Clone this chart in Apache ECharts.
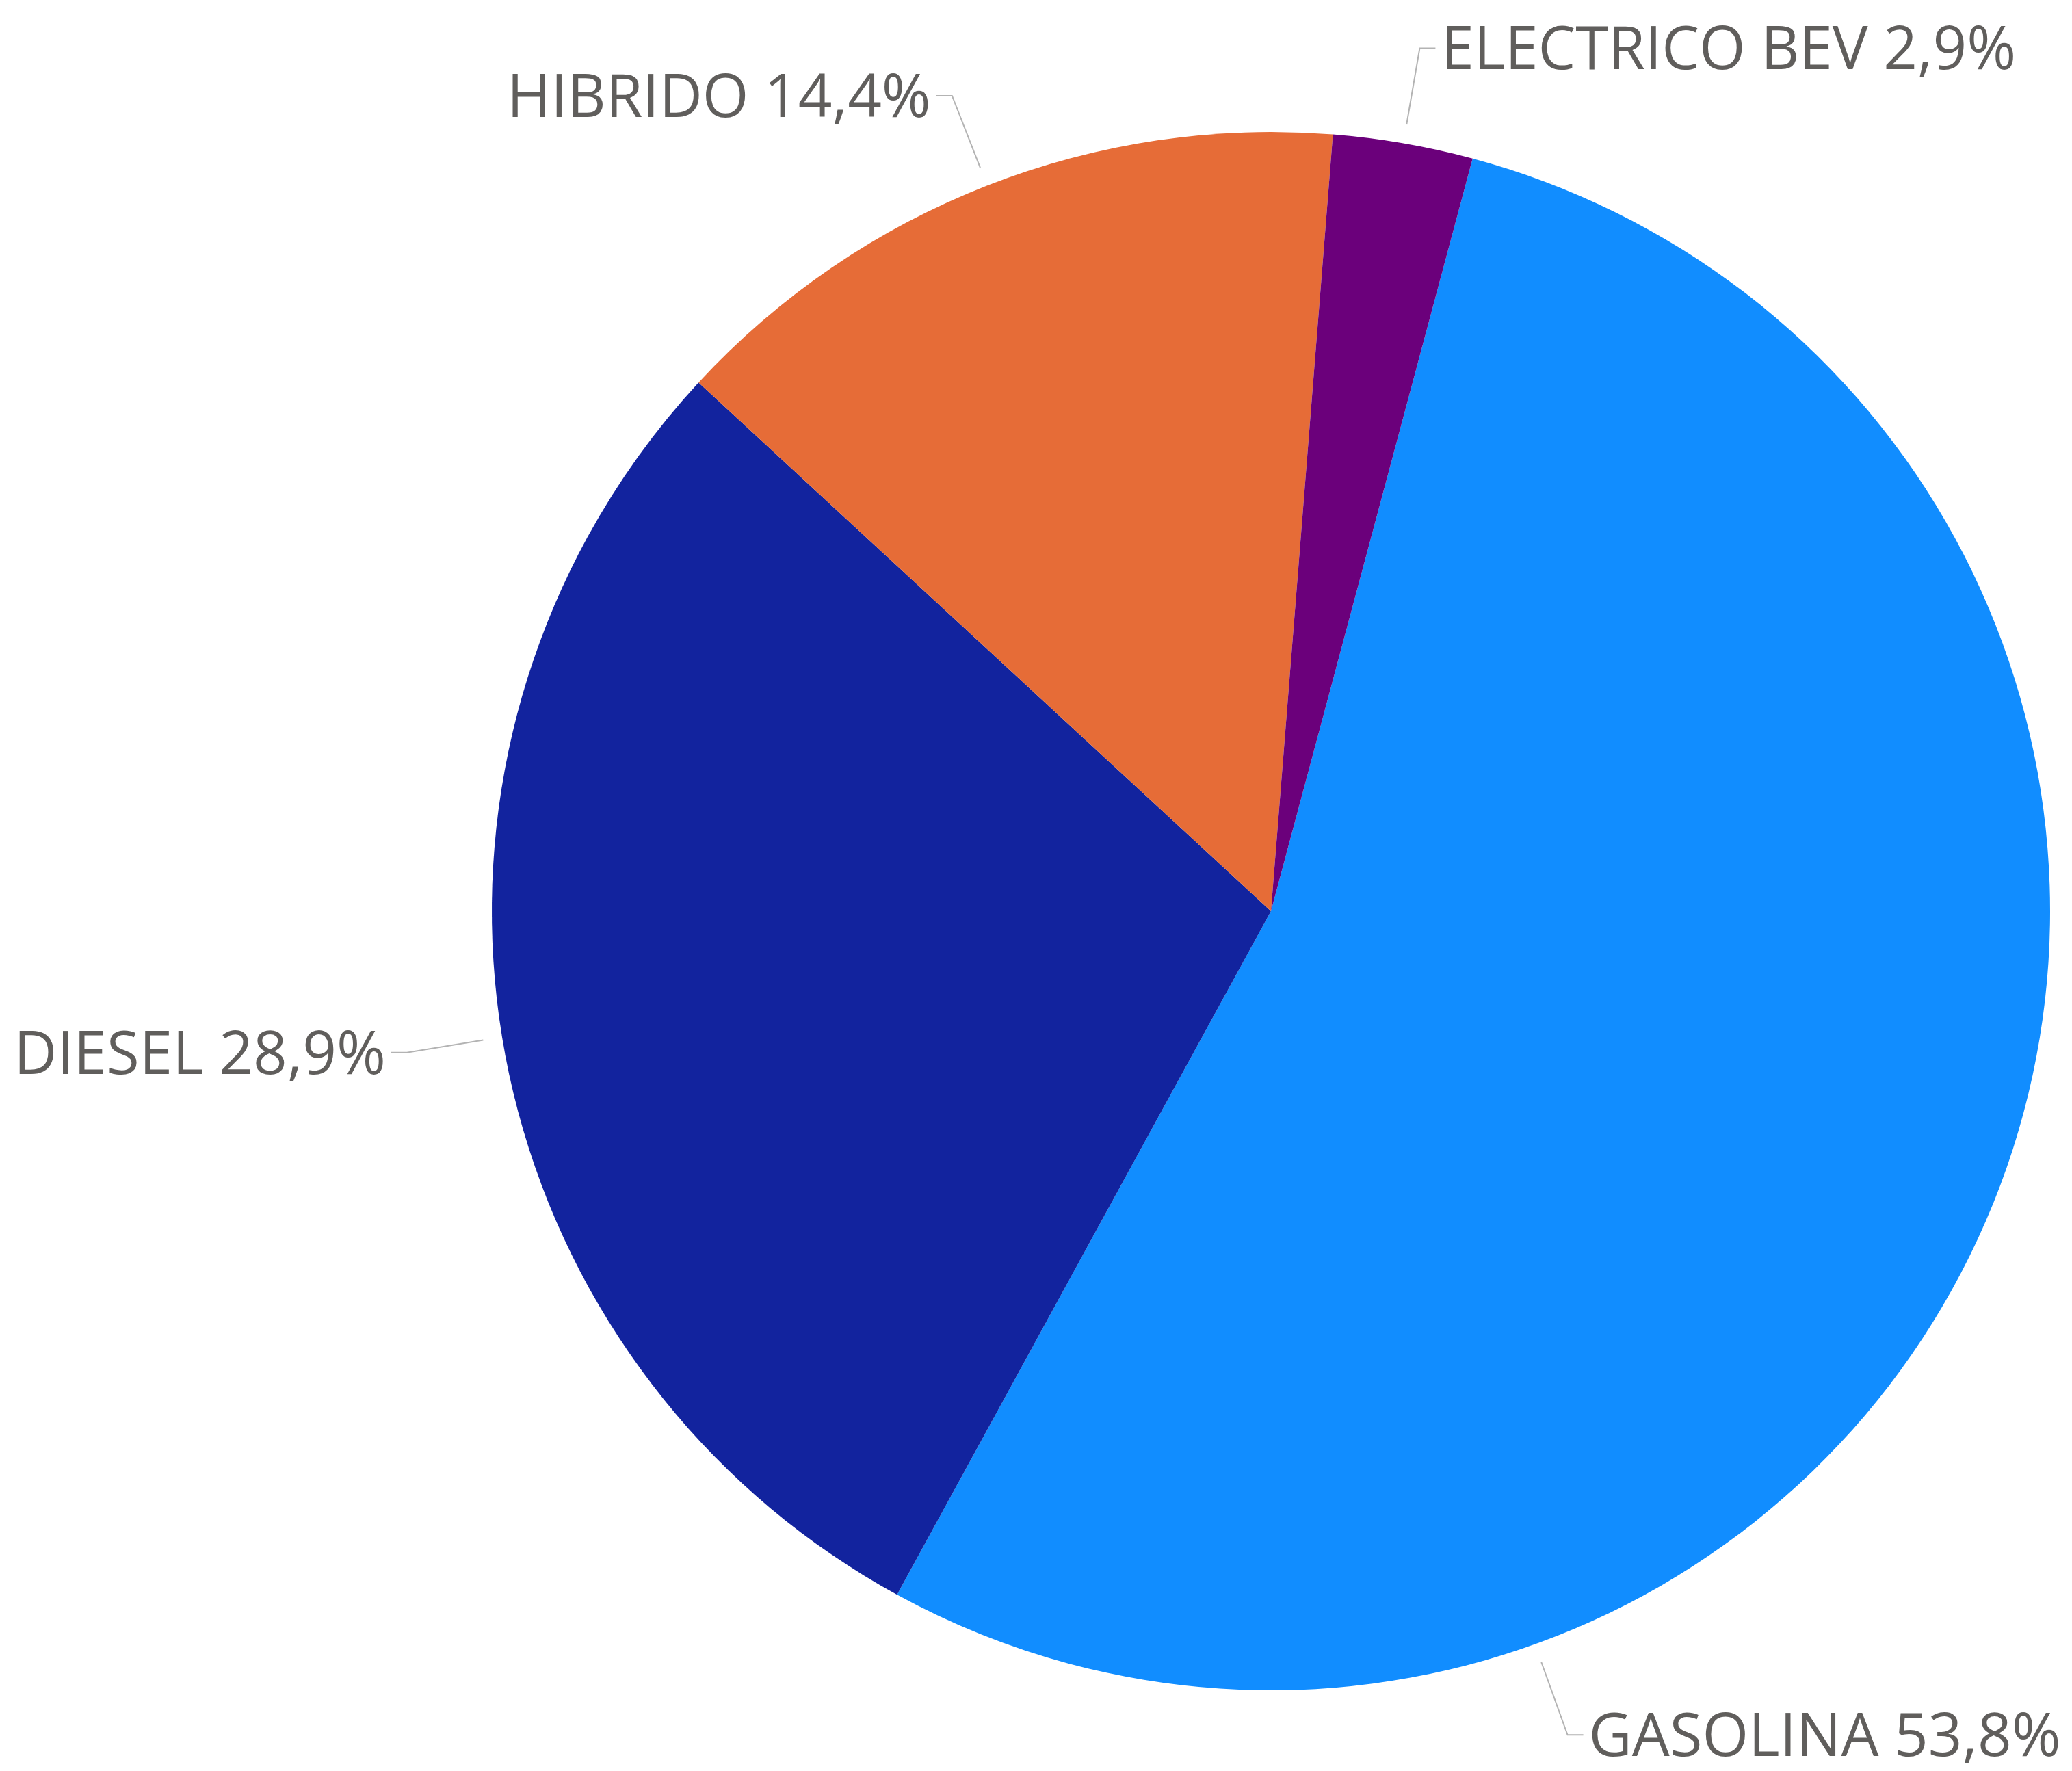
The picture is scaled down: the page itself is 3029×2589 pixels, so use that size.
<!DOCTYPE html>
<html>
<head>
<meta charset="utf-8">
<script src="https://cdn.jsdelivr.net/npm/echarts@6/dist/echarts.min.js"></script>
<style>
html,body{margin:0;padding:0;background:#fff;}
#chart{width:3029px;height:2589px;}
</style>
</head>
<body>
<div id="chart"></div>
<script>
const categories = ['GASOLINA', 'DIESEL', 'HIBRIDO', 'ELECTRICO BEV'];
const values = [53.8, 28.9, 14.4, 2.9];
const colors = ['#118DFF', '#12239E', '#E66C37', '#6B007B'];

// layout constants
const CX = 1858, CY = 1332, R = 1139, R_LABEL = 1167;
const LINE_LEN = 113, LINE_LEN2 = 23, LABEL_GAP = 8, TEXT_SHIFT = 6;
// The big slice's label is placed lower on its arc (as in the original), angle clockwise from 12 o'clock
const MOVED_LABEL_INDEX = 0, MOVED_LABEL_ANGLE = 160.2;

const chart = echarts.init(document.getElementById('chart'), null, {renderer: 'canvas'});
const pieData = categories.map((c, i) => ({name: c, value: values[i], itemStyle: {color: colors[i]}}));
const labelData = categories.map((c, i) => ({name: c, value: values[i]}));
const fmt = p => p.name + ' ' + p.value.toFixed(1).replace('.', ',') + '%';

chart.setOption({
  animation: false,
  series: [
    {
      type: 'pie',
      center: [CX, CY],
      radius: [0, R],
      startAngle: 75,
      clockwise: true,
      avoidLabelOverlap: false,
      silent: true,
      label: {show: false},
      labelLine: {show: false},
      data: pieData
    },
    {
      type: 'pie',
      center: [CX, CY],
      radius: [0, R_LABEL],
      startAngle: 75,
      clockwise: true,
      avoidLabelOverlap: false,
      silent: true,
      itemStyle: {color: 'rgba(0,0,0,0)'},
      label: {
        show: true,
        position: 'outside',
        formatter: fmt,
        color: '#605E5C',
        fontFamily: '"Open Sans", sans-serif',
        fontSize: 87,
        width: 900,
        distanceToLabelLine: LABEL_GAP
      },
      labelLine: {
        show: true,
        length: LINE_LEN,
        length2: LINE_LEN2,
        lineStyle: {color: '#B3B3B3', width: 2}
      },
      labelLayout: function (p) {
        if (p.seriesIndex !== 1 || p.dataIndex !== MOVED_LABEL_INDEX) return {dy: TEXT_SHIFT};
        const a = MOVED_LABEL_ANGLE * Math.PI / 180;
        const sx = Math.sin(a), sy = -Math.cos(a);
        const x1 = CX + R_LABEL * sx, y1 = CY + R_LABEL * sy;
        const x2 = CX + (R_LABEL + LINE_LEN) * sx, y2 = CY + (R_LABEL + LINE_LEN) * sy;
        const dir = sx < 0 ? -1 : 1;
        const x3 = x2 + dir * LINE_LEN2, y3 = y2;
        return {
          x: x3 + dir * LABEL_GAP,
          y: y3 + TEXT_SHIFT,
          align: dir < 0 ? 'right' : 'left',
          verticalAlign: 'middle',
          labelLinePoints: [[x1, y1], [x2, y2], [x3, y3]]
        };
      },
      data: labelData
    }
  ]
});
</script>
</body>
</html>
